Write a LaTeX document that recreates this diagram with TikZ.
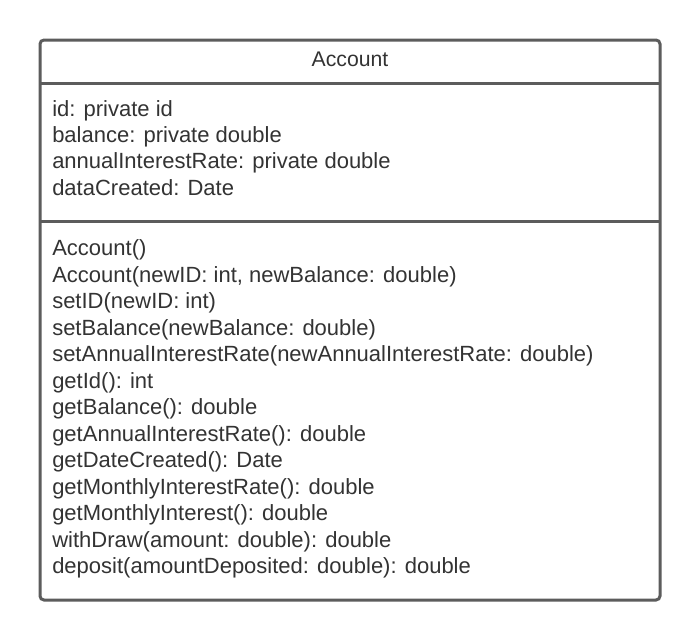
\documentclass[tikz,border=0pt]{standalone}
\usepackage{fontspec}
\setmainfont{Liberation Sans}
\begin{document}
\begin{tikzpicture}[x=0.75pt,y=-0.75pt,
  frame/.style={draw=black!64,line width=2.25pt,rounded corners=3pt},
  divider/.style={draw=black!64,line width=2.25pt},
  umltext/.style={inner sep=0pt,anchor=base west,text=black!80,font=\fontsize{16.5pt}{19pt}\selectfont},
  umltitle/.style={inner sep=0pt,anchor=base,text=black!80,font=\fontsize{15.9pt}{18pt}\selectfont}]
\useasboundingbox (0,0) rectangle (700,640);
\fill[white] (0,0) rectangle (700,640);
\coordinate (tl) at (40,40);
\coordinate (br) at (660,600);
\draw[frame] (tl) rectangle (br);
\coordinate (d1l) at (40,83);
\coordinate (d1r) at (660,83);
\coordinate (d2l) at (40,221);
\coordinate (d2r) at (660,221);
\draw[divider] (d1l) -- (d1r);
\draw[divider] (d2l) -- (d2r);
\node[umltitle] (title) at (350,66.5) {Account};
\node[umltext] (a1) at (52,116) {id: private id};
\node[umltext] (a2) at (52,142.4) {balance: private double};
\node[umltext] (a3) at (52,168.8) {annualInterestRate: private double};
\node[umltext] (a4) at (52,195.2) {dataCreated: Date};
\foreach \t [count=\i from 0] in {
  Account(),
  {Account(newID: int, newBalance: double)},
  setID(newID: int),
  setBalance(newBalance: double),
  setAnnualInterestRate(newAnnualInterestRate: double),
  getId(): int,
  getBalance(): double,
  getAnnualInterestRate(): double,
  getDateCreated(): Date,
  getMonthlyInterestRate(): double,
  getMonthlyInterest(): double,
  withDraw(amount: double): double,
  deposit(amountDeposited: double): double}
  \node[umltext] (m\i) at (52,255.5+26.5*\i) {\t};
\end{tikzpicture}
\end{document}
